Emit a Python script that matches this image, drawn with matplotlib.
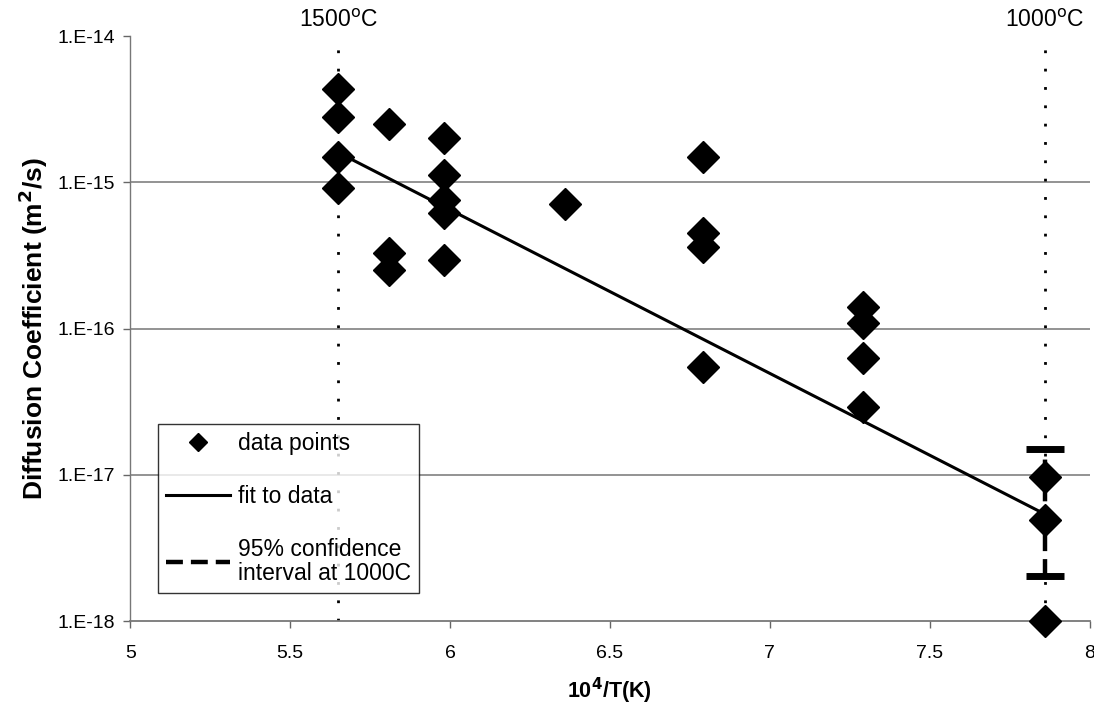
import matplotlib
matplotlib.use("Agg")
import matplotlib.pyplot as plt
from matplotlib.lines import Line2D

plt.rcParams['font.family'] = ['Liberation Sans', 'DejaVu Sans']

# ---- data ----
x_points = [5.65, 5.65, 5.65, 5.65,
            5.81, 5.81, 5.81,
            5.98, 5.98, 5.98, 5.98, 5.98,
            6.36,
            6.79, 6.79, 6.79, 6.79,
            7.29, 7.29, 7.29, 7.29,
            7.86, 7.86, 7.86]
d_points = [4.35e-15, 2.79e-15, 1.49e-15, 9.1e-16,
            2.5e-15, 3.3e-16, 2.5e-16,
            2.01e-15, 1.12e-15, 7.6e-16, 6.2e-16, 2.94e-16,
            7.1e-16,
            1.49e-15, 4.5e-16, 3.6e-16, 5.5e-17,
            1.40e-16, 1.09e-16, 6.3e-17, 2.9e-17,
            9.7e-18, 4.9e-18, 1.0e-18]
fit_x = [5.65, 7.86]
fit_y = [1.6e-15, 5.4e-18]
ci_x = 7.86
ci_low, ci_high = 2.03e-18, 1.5e-17
temp_x = [5.65, 7.86]
temp_labels = ["1500$^{\\rm o}$C", "1000$^{\\rm o}$C"]
x_ticks = [5, 5.5, 6, 6.5, 7, 7.5, 8]
x_ticklabels = ["5", "5.5", "6", "6.5", "7", "7.5", "8"]
y_ticks = [1e-18, 1e-17, 1e-16, 1e-15, 1e-14]
y_ticklabels = ["1.E-18", "1.E-17", "1.E-16", "1.E-15", "1.E-14"]

fig = plt.figure(figsize=(10.94, 7.06), dpi=100)
ax = fig.add_axes([0.119, 0.120, 0.877, 0.829])
ax.set_yscale('log')
ax.set_xlim(5, 8)
ax.set_ylim(1e-18, 1e-14)

# grid lines at decades
for yv in [1e-15, 1e-16, 1e-17]:
    ax.axhline(yv, color='#8a8a8a', lw=1.3, zorder=1)

# vertical dotted temperature lines
for xv, lab in zip(temp_x, temp_labels):
    ax.axvline(xv, color='black', lw=2.0, linestyle=(0, (1, 5.6)), zorder=2)
    ax.annotate(lab, xy=(xv, 1e-14), xytext=(0, 3), textcoords='offset points',
                ha='center', va='bottom', fontsize=16.5)

# fit line
ax.plot(fit_x, fit_y, color='black', lw=2.2, zorder=3)

# confidence interval
ax.plot([ci_x, ci_x], [ci_low, ci_high], color='black', lw=3.2,
        linestyle=(0, (3.8, 1.8)), zorder=3, clip_on=False)
ax.plot([ci_x, ci_x], [ci_low, ci_high], linestyle='none', marker='_',
        markersize=27, mew=5, color='black', zorder=4, clip_on=False)

# data points
ax.plot(x_points, d_points, linestyle='none', marker='D', markersize=16,
        color='black', zorder=5, clip_on=False)

ax.set_xticks(x_ticks)
ax.set_xticklabels(x_ticklabels, fontsize=14)
ax.set_yticks(y_ticks)
ax.set_yticklabels(y_ticklabels, fontsize=14)
ax.minorticks_off()
ax.tick_params(axis='both', length=5, width=1, color='#666666', pad=6)
ax.tick_params(axis='x', pad=12)

for s in ['top', 'right']:
    ax.spines[s].set_visible(False)
ax.spines['left'].set_color('#777777')
ax.spines['bottom'].set_color('#777777')
ax.spines['left'].set_linewidth(1)
ax.spines['bottom'].set_linewidth(1.3)

ax.set_xlabel("10$^{\\mathbf{4}}$/T(K)", fontsize=15.5, fontweight='bold', labelpad=10)
ax.set_ylabel("Diffusion Coefficient (m$^{\\mathbf{2}}$/s)", fontsize=19,
              fontweight='bold', labelpad=5)

handles = [
    Line2D([], [], linestyle='none', marker='D', markersize=9, color='black'),
    Line2D([], [], color='black', lw=2.2),
    Line2D([], [], color='black', lw=3.2, linestyle=(0, (3.8, 1.8))),
]
labels = ["data points", "fit to data", "95% confidence\ninterval at 1000C"]
leg = ax.legend(handles, labels, loc='lower left', bbox_to_anchor=(0.029, 0.048),
                fontsize=16.5, frameon=True, fancybox=False, edgecolor='black',
                handlelength=2.8, handletextpad=0.35, labelspacing=1.3,
                borderpad=0.35, borderaxespad=0)
leg.get_frame().set_linewidth(1.0)
for t in leg.get_texts():
    t.set_linespacing(1.08)

fig.savefig("out.png", dpi=100)
